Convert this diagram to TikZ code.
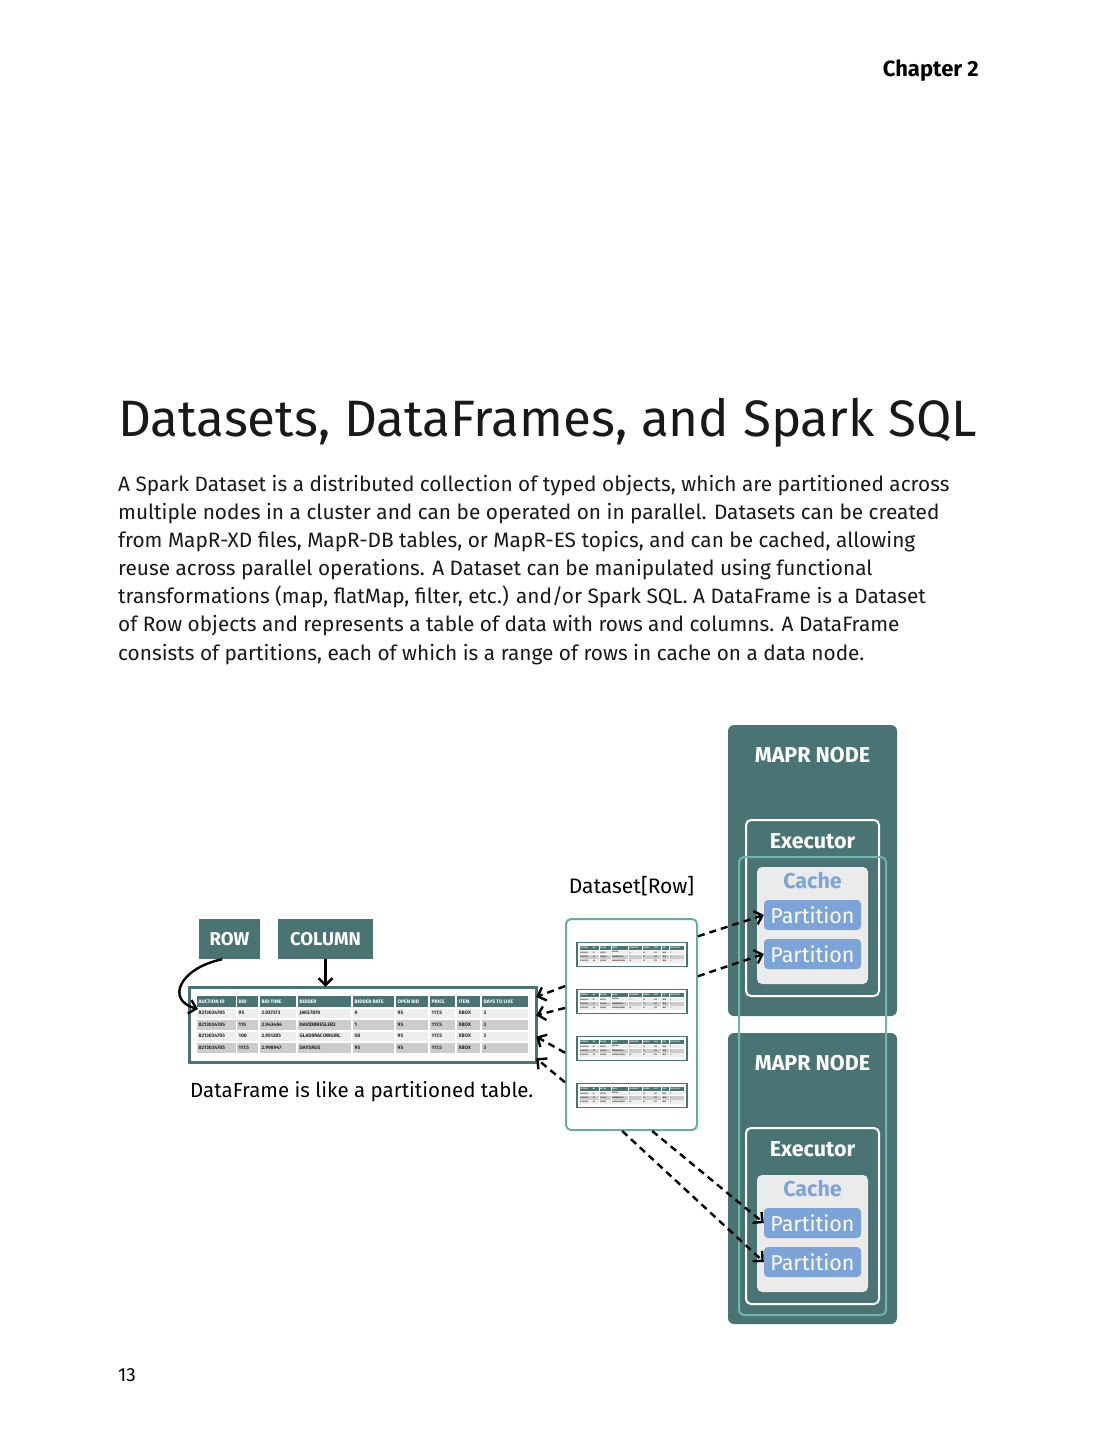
\documentclass[tikz,border=0pt]{standalone}
\usepackage{fontspec}
\setmainfont{Fira Sans}
\usetikzlibrary{arrows.meta}

\definecolor{maprteal}{HTML}{4A7473}
\definecolor{clusterteal}{HTML}{6FB5AC}
\definecolor{dsteal}{HTML}{6CAAA5}
\definecolor{partblue}{HTML}{7DA4D8}
\definecolor{cachegray}{HTML}{EBEBEB}
\definecolor{rowlight}{HTML}{EEEEEE}
\definecolor{rowdark}{HTML}{CCCCCC}

% table of auction rows, #1 = number of rows shown
\newcommand{\auctiontable}[1]{%
  \draw[tableframe] (0,0) rectangle (347,29+11.5*#1);
  \foreach \xa/\xb/\head in {8/47/AUCTION ID, 48/69/BID, 71/107/BID TIME, 109/162/BIDDER, 164/205/BIDDER RATE, 207/239/OPEN BID, 241/266/PRICE, 268/291/ITEM, 293/339/DAYS TO LIVE}{
    \fill[maprteal] (\xa,9) rectangle (\xb,20);
    \node[cellhead] at (\xa+1.5,14.5) {\head};
  }
  \foreach \r/\shade/\bid/\btime/\bidder/\rate in {1/rowlight/95/2.927373/JAKE7870/0, 2/rowdark/115/2.943484/DAVIDBRESLER2/1, 3/rowlight/100/2.951285/GLADIMACOWGIRL/58, 4/rowdark/117.5/2.998947/DAYSRUS/95}{
    \ifnum\r>#1\relax\else
      \foreach \xa/\xb in {8/47, 48/69, 71/107, 109/162, 164/205, 207/239, 241/266, 268/291, 293/339}{
        \fill[\shade] (\xa,10+11.5*\r) rectangle (\xb,19.5+11.5*\r);
      }
      \node[cell] at (9.5,14.75+11.5*\r) {8213034705};
      \node[cell] at (49.5,14.75+11.5*\r) {\bid};
      \node[cell] at (72.5,14.75+11.5*\r) {\btime};
      \node[cell] at (110.5,14.75+11.5*\r) {\bidder};
      \node[cell] at (165.5,14.75+11.5*\r) {\rate};
      \node[cell] at (208.5,14.75+11.5*\r) {95};
      \node[cell] at (242.5,14.75+11.5*\r) {117.5};
      \node[cell] at (269.5,14.75+11.5*\r) {XBOX};
      \node[cell] at (294.5,14.75+11.5*\r) {3};
    \fi
  }
}

\begin{document}
\begin{tikzpicture}[x=1pt, y=-1pt,
    maprnode/.style={fill=maprteal, rounded corners=6, minimum width=169, minimum height=291, inner sep=0},
    executor/.style={draw=white, line width=2, rounded corners=5, minimum width=133, minimum height=176, inner sep=0},
    cachebox/.style={fill=cachegray, rounded corners=5, minimum width=111, minimum height=117, inner sep=0},
    partition/.style={fill=partblue, rounded corners=4, minimum width=97, minimum height=30, inner sep=0, text=white, font=\fontsize{21.5}{21.5}\selectfont},
    boxtitle/.style={text=white, inner sep=0, font=\fontsize{21.5}{21.5}\selectfont\bfseries},
    cachetitle/.style={text=partblue, inner sep=0, font=\fontsize{21.5}{21.5}\selectfont\bfseries},
    labelbox/.style={fill=maprteal, text=white, minimum height=40, inner sep=0, font=\fontsize{18.5}{18.5}\selectfont\bfseries},
    bodytext/.style={anchor=base west, inner sep=0, text=black!90, font=\fontsize{20.8}{28}\selectfont},
    tableframe/.style={draw=maprteal, line width=3, fill=white},
    cellhead/.style={anchor=west, inner sep=0, text=white, font=\fontsize{5}{5}\selectfont\bfseries},
    cell/.style={anchor=west, inner sep=0, text=black!85, font=\fontsize{5}{5}\selectfont\bfseries},
    arrowline/.style={line width=2.4, -{Straight Barb[length=7pt, width=14pt]}},
    dasharrow/.style={arrowline, dash pattern=on 7pt off 5pt}]

    \fill[white] (0,0) rectangle (1097,1440);
    \useasboundingbox (0,0) rectangle (1097,1440);

    % page text
    \node[anchor=base east, inner sep=0, font=\fontsize{22}{22}\selectfont\bfseries] (chapter) at (979,76) {Chapter 2};
    \node[anchor=base west, inner sep=0, text=black!90, font=\fontsize{51.2}{51.2}\selectfont] (title) at (118,436) {Datasets, DataFrames, and Spark SQL};
    \node[bodytext] (para1) at (118,491) {A Spark Dataset is a distributed collection of typed objects, which are partitioned across};
    \node[bodytext] (para2) at (118,519) {multiple nodes in a cluster and can be operated on in parallel. Datasets can be created};
    \node[bodytext] (para3) at (118,547) {from MapR-XD files, MapR-DB tables, or MapR-ES topics, and can be cached, allowing};
    \node[bodytext] (para4) at (118,575) {reuse across parallel operations. A Dataset can be manipulated using functional};
    \node[bodytext] (para5) at (118,603) {transformations (map, flatMap, filter, etc.) and/or Spark SQL. A DataFrame is a Dataset};
    \node[bodytext] (para6) at (118,631) {of Row objects and represents a table of data with rows and columns. A DataFrame};
    \node[bodytext] (para7) at (118,660) {consists of partitions, each of which is a range of rows in cache on a data node.};
    \node[anchor=base west, inner sep=0, font=\fontsize{19}{19}\selectfont] (pagenum) at (118,1381) {13};

    % MapR nodes
    \node[maprnode] (mapr1) at (812.5,870.5) {};
    \node[boxtitle] (mapr1title) at (812.5,755) {MAPR NODE};
    \node[executor] (exec1) at (812.5,908) {};
    \node[boxtitle] (exec1title) at (812.5,841) {Executor};
    \node[cachebox] (cache1) at (812.5,925.5) {};
    \node[cachetitle] (cache1title) at (812.5,881) {Cache};
    \node[partition] (part1a) at (812.5,915) {Partition};
    \node[partition] (part1b) at (812.5,954) {Partition};

    \node[maprnode] (mapr2) at (812.5,1178.5) {};
    \node[boxtitle] (mapr2title) at (812.5,1063) {MAPR NODE};
    \node[executor] (exec2) at (812.5,1216) {};
    \node[boxtitle] (exec2title) at (812.5,1149) {Executor};
    \node[cachebox] (cache2) at (812.5,1233.5) {};
    \node[cachetitle] (cache2title) at (812.5,1189) {Cache};
    \node[partition] (part2a) at (812.5,1223) {Partition};
    \node[partition] (part2b) at (812.5,1262) {Partition};

    \node[draw=clusterteal, line width=2, rounded corners=5, minimum width=147, minimum height=458, inner sep=0] (cluster) at (812.5,1086) {};

    % Dataset of rows
    \node[anchor=base, inner sep=0, font=\fontsize{21}{21}\selectfont] (dslabel) at (631.5,893) {Dataset[Row]};
    \node[draw=dsteal, fill=white, line width=2, rounded corners=5, minimum width=131, minimum height=211, inner sep=0] (dataset) at (631.5,1024.5) {};
    \foreach \ty in {942.5, 989.5, 1036.5, 1083.5}{
        \begin{scope}[shift={(577,\ty)}, xscale=0.317, yscale=0.378, transform shape, tableframe/.append style={line width=1.6}]
            \auctiontable{3}
        \end{scope}
    }

    % DataFrame table
    \node[labelbox, minimum width=61] (row) at (229.5,939) {ROW};
    \node[labelbox, minimum width=95] (column) at (325.5,939) {COLUMN};
    \begin{scope}[shift={(189,987)}]
        \auctiontable{4}
    \end{scope}
    \node[inner sep=0, minimum width=347, minimum height=75] (dftable) at (362.5,1024.5) {};
    \coordinate (rowtip) at (198,1009);
    \node[anchor=base west, inner sep=0, font=\fontsize{20.5}{20.5}\selectfont] (dfcaption) at (190,1097) {DataFrame is like a partitioned table.};

    % arrows
    \draw[arrowline] (row.250) .. controls (180,968) and (165,1000) .. (rowtip);
    \draw[arrowline] (column.south) -- (column.south |- dftable.north);
    \draw[dasharrow] (dataset.150) -- (dftable.9);
    \draw[dasharrow] (dataset.166) -- (dftable.3);
    \draw[dasharrow] (dataset.203) -- (dftable.356);
    \draw[dasharrow] (dataset.221) -- (dftable.349);
    \draw[dasharrow] (dataset.53) -- (part1a.west);
    \draw[dasharrow] (dataset.36) -- (part1b.west);
    \draw[dasharrow] (dataset.281) -- (part2a.west);
    \draw[dasharrow] (dataset.265) -- (part2b.west);
\end{tikzpicture}
\end{document}
